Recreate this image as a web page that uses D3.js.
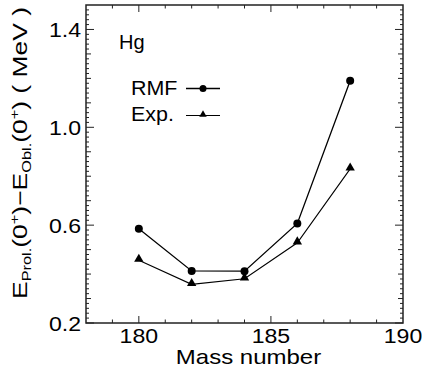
<!DOCTYPE html>
<html><head><meta charset="utf-8">
<script src="https://cdn.jsdelivr.net/npm/d3@7"></script>
<style>
html,body{margin:0;padding:0;background:#fff;}
svg{display:block;font-family:"Liberation Sans",Arial,Helvetica,sans-serif;}
</style></head>
<body>
<svg id="c" width="422" height="378"></svg>
<script>
const massNumbers = [180, 182, 184, 186, 188];
const rmfValues = [0.585, 0.413, 0.412, 0.607, 1.19];
const expValues = [0.457, 0.358, 0.381, 0.528, 0.83];
const xTickLabels = [180, 185, 190];
const yTickLabels = ["0.2", "0.6", "1.0", "1.4"];
const seriesNames = ["RMF", "Exp."];
const nucleus = "Hg";

const svg = d3.select("#c");
const L = 86, R = 403, T = 5, B = 323;
const x = d3.scaleLinear().domain([178, 190]).range([L, R]);
const y = d3.scaleLinear().domain([0.2, 1.5]).range([B, T]);
const ink = "#000";

// frame
svg.append("rect").attr("x", L).attr("y", T).attr("width", R - L).attr("height", B - T)
  .attr("fill", "none").attr("stroke", "#222").attr("stroke-width", 1.5);

// x ticks (bottom & top, inward)
const xMinor = d3.range(179, 190, 1);
const gx = svg.append("g").attr("stroke", "#222").attr("stroke-width", 1);
xMinor.forEach(v => {
  const len = (v % 5 === 0) ? 7 : 3.5;
  gx.append("line").attr("x1", x(v)).attr("x2", x(v)).attr("y1", B).attr("y2", B - len);
  gx.append("line").attr("x1", x(v)).attr("x2", x(v)).attr("y1", T).attr("y2", T + len);
});
// y ticks
const yMinor = d3.range(0, 66).map(i => +(0.2 + i * 0.02).toFixed(2)).filter(v => v < 1.5);
const gy = svg.append("g").attr("stroke", "#222").attr("stroke-width", 1);
yMinor.forEach(v => {
  const k = Math.round(v * 100);
  let len = 3;
  if (k % 10 === 0) len = 5;
  if ((k - 20) % 40 === 0) len = 8;
  gy.append("line").attr("x1", L).attr("x2", L + len).attr("y1", y(v)).attr("y2", y(v));
  gy.append("line").attr("x1", R).attr("x2", R - len).attr("y1", y(v)).attr("y2", y(v));
});

function stretchedText(px, py, str, size, anchor, sx) {
  const g = svg.append("g").attr("transform", `translate(${px},${py}) scale(${sx},1)`);
  g.append("text").attr("x", 0).attr("y", 0).attr("font-size", size)
    .attr("text-anchor", anchor).attr("fill", ink).text(str);
  return g;
}

// tick labels
xTickLabels.forEach(v => stretchedText(x(v), 343, v, 21, "middle", 1.1));
yTickLabels.forEach(v => stretchedText(81, y(+v) + 8, v, 21, "end", 1.1));

// axis title
stretchedText((L + R) / 2 + 4, 364, "Mass number", 20, "middle", 1.2);

// y title with sub/superscripts
const yt = svg.append("g").attr("transform", "translate(27,153) rotate(-90)");
const ytext = yt.append("text").attr("font-size", 21).attr("fill", ink).attr("text-anchor", "middle");
function part(str, opt) {
  const t = ytext.append("tspan").text(str);
  if (opt) { t.attr("font-size", opt.fs).attr("dy", opt.dy); }
  return t;
}
part("E");
part("Prol.", {fs: 13, dy: 4});
part("(0", {fs: 21, dy: -4});
part("+", {fs: 13, dy: -8});
part(")\u2212E", {fs: 21, dy: 8});
part("Obl.", {fs: 13, dy: 4});
part("(0", {fs: 21, dy: -4});
part("+", {fs: 13, dy: -8});
part(") ( MeV )", {fs: 21, dy: 8});
const len0 = ytext.node().getComputedTextLength();
yt.attr("transform", `translate(27,153) rotate(-90) scale(${292 / len0},1)`);

// lines
const line = d3.line().x((d, i) => x(massNumbers[i])).y(d => y(d));
svg.append("path").datum(rmfValues).attr("d", line).attr("fill", "none").attr("stroke", ink).attr("stroke-width", 1.3);
svg.append("path").datum(expValues).attr("d", line).attr("fill", "none").attr("stroke", ink).attr("stroke-width", 1.1);

const tri = d3.symbol().type(d3.symbolTriangle);
svg.append("g").selectAll("circle").data(rmfValues).join("circle")
  .attr("cx", (d, i) => x(massNumbers[i])).attr("cy", d => y(d)).attr("r", 4).attr("fill", ink);
svg.append("g").selectAll("path").data(expValues).join("path")
  .attr("transform", (d, i) => `translate(${x(massNumbers[i])},${y(d) - 1})`)
  .attr("d", tri.size(38)).attr("fill", ink);

// label & legend
stretchedText(119, 49, nucleus, 20, "start", 1.0);
stretchedText(131, 95, seriesNames[0], 19.5, "start", 1.1);
stretchedText(131, 121, seriesNames[1], 19.5, "start", 1.1);
svg.append("line").attr("x1", 186).attr("x2", 220).attr("y1", 88.5).attr("y2", 88.5).attr("stroke", ink).attr("stroke-width", 1.3);
svg.append("circle").attr("cx", 203).attr("cy", 88.5).attr("r", 3.5).attr("fill", ink);
svg.append("line").attr("x1", 186).attr("x2", 220).attr("y1", 115.5).attr("y2", 115.5).attr("stroke", ink).attr("stroke-width", 1.1);
svg.append("path").attr("transform", "translate(203,114.5)").attr("d", tri.size(24)).attr("fill", ink);
</script>
</body></html>
